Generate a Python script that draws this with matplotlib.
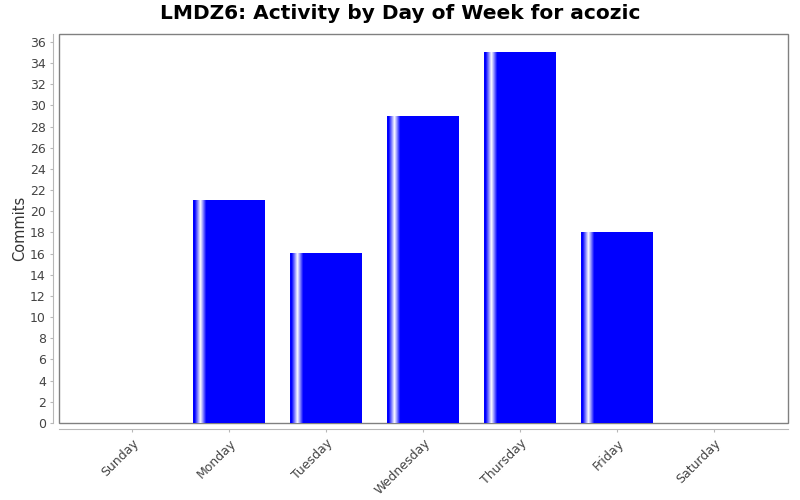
import numpy as np
import matplotlib
matplotlib.use('Agg')
import matplotlib.pyplot as plt

days = ['Sunday', 'Monday', 'Tuesday', 'Wednesday', 'Thursday', 'Friday', 'Saturday']
commits = [0, 21, 16, 29, 35, 18, 0]
title = 'LMDZ6: Activity by Day of Week for acozic'

fig = plt.figure(figsize=(8, 5), dpi=100)
ax = fig.add_axes([59 / 800, 1 - 423 / 500, 729 / 800, 389 / 500])

# gradient across the bar: blue -> white stripe near left edge -> blue
n = 100
t = np.linspace(0, 1, n)
w = np.clip(1 - np.abs(t - 0.1) / 0.08, 0, 1)
grad = np.zeros((1, n, 3))
grad[0, :, 0] = w
grad[0, :, 1] = w
grad[0, :, 2] = 1.0

bw = 0.742
for i, v in enumerate(commits):
    if v <= 0:
        continue
    ax.imshow(grad, extent=(i - bw / 2, i + bw / 2, 0, v), aspect='auto',
              interpolation='bilinear', zorder=2)

ax.set_xlim(-0.755, 6.76)
ax.set_ylim(0, 36.75)
ax.set_xticks(range(len(days)))
ax.set_xticklabels(days)
ax.set_yticks(range(0, 37, 2))

ax.patch.set_edgecolor('#808080')
ax.patch.set_linewidth(1.0)
for s in ['top', 'right']:
    ax.spines[s].set_visible(False)
for s in ['left', 'bottom']:
    ax.spines[s].set_position(('outward', 4))
    ax.spines[s].set_color('#b8b8b8')
ax.tick_params(axis='both', length=2, width=0.8, color='#b8b8b8',
               labelsize=9, labelcolor='#444444')
ax.tick_params(axis='x', pad=4, labelrotation=45)
for lab in ax.get_xticklabels():
    lab.set_ha('right')
    lab.set_rotation_mode('anchor')

ax.set_ylabel('Commits', fontsize=10.5, color='#333333', labelpad=2)
fig.suptitle(title, x=0.5, y=0.992, fontsize=14.5, fontweight='bold')

fig.savefig('out.png', dpi=100)
